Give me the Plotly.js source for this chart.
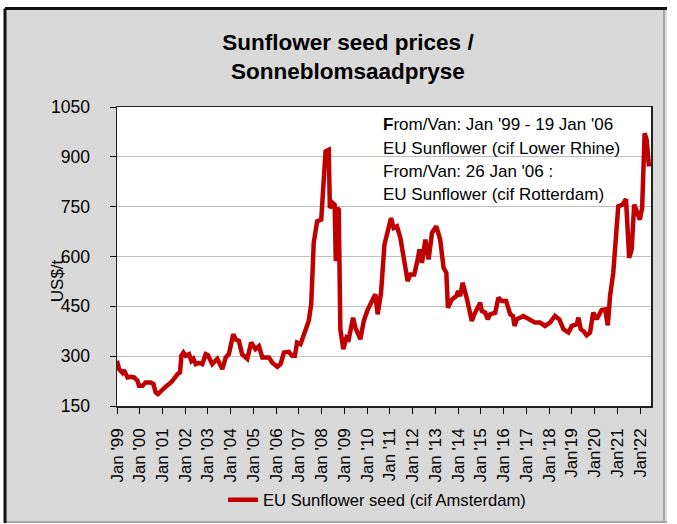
<!DOCTYPE html>
<html>
<head>
<meta charset="utf-8">
<script src="https://cdn.plot.ly/plotly-3.0.1.min.js"></script>
<style>
html,body{margin:0;padding:0;background:#fff;}
#chart{width:677px;height:524px;}
</style>
</head>
<body>
<div id="chart"></div>
<script>
// decimal-year positions of the weekly series
var years = [1999.00,1999.09,1999.24,1999.31,1999.46,1999.61,1999.75,1999.90,1999.97,2000.12,
2000.26,2000.48,2000.60,2000.70,2000.80,2001.00,2001.14,2001.29,2001.44,2001.66,
2001.77,2001.83,2001.92,2002.02,2002.17,2002.27,2002.36,2002.46,2002.60,2002.75,
2002.90,2003.00,2003.19,2003.41,2003.63,2003.78,2003.92,2004.11,2004.21,2004.36,
2004.50,2004.73,2004.90,2005.09,2005.24,2005.39,2005.68,2005.83,2006.05,2006.19,
2006.34,2006.56,2006.70,2006.82,2006.92,2007.07,2007.20,2007.43,2007.54,2007.65,
2007.80,2007.98,2008.17,2008.31,2008.36,2008.49,2008.57,2008.62,2008.68,2008.75,
2008.82,2008.95,2009.09,2009.19,2009.38,2009.48,2009.70,2009.85,2010.00,2010.22,
2010.36,2010.46,2010.61,2010.76,2010.95,2011.05,2011.16,2011.31,2011.46,2011.63,
2011.78,2011.90,2012.07,2012.22,2012.30,2012.41,2012.56,2012.70,2012.85,2013.04,
2013.21,2013.36,2013.48,2013.55,2013.73,2013.92,2014.00,2014.09,2014.20,2014.39,
2014.60,2014.71,2014.83,2014.97,2015.04,2015.19,2015.30,2015.41,2015.63,2015.77,
2015.92,2016.11,2016.29,2016.41,2016.48,2016.58,2016.87,2017.09,2017.38,2017.60,
2017.82,2018.04,2018.26,2018.45,2018.63,2018.85,2019.00,2019.21,2019.29,2019.39,
2019.50,2019.65,2019.80,2019.94,2020.09,2020.31,2020.46,2020.58,2020.68,2020.82,
2020.94,2021.04,2021.23,2021.38,2021.52,2021.63,2021.74,2021.88,2021.99,2022.09,
2022.20,2022.29,2022.39];

// EU Sunflower seed price, US$/t
var prices = [286,261,250,258,236,238,236,226,211,211,
221,221,216,191,186,201,208,216,226,246,
251,301,311,301,306,286,292,276,280,276,
306,303,276,292,261,296,306,366,351,346,
306,292,341,321,330,296,296,280,268,276,
311,313,301,301,341,336,361,406,456,641,
706,711,916,921,746,761,756,586,746,741,
381,321,356,351,416,386,351,406,436,471,
486,426,491,636,686,716,686,691,656,591,
526,546,546,591,621,581,651,591,671,691,
651,566,551,446,471,481,496,481,521,471,
406,426,446,461,436,431,411,426,431,476,
466,466,426,421,391,411,421,411,401,401,
391,401,421,411,381,371,391,396,416,381,
376,363,371,431,411,439,441,393,481,551,
651,751,756,773,596,621,756,731,711,746,
971,951,871];

var tickYears = [1999,2000,2001,2002,2003,2004,2005,2006,2007,2008,2009,2010,2011,2012,2013,2014,2015,2016,2017,2018,2019,2020,2021,2022];
var tickLabels = ["Jan '99","Jan '00","Jan '01","Jan '02","Jan '03","Jan '04","Jan '05","Jan '06","Jan '07","Jan '08","Jan '09","Jan '10","Jan '11","Jan '12","Jan '13","Jan '14","Jan '15","Jan '16","Jan '17","Jan '18","Jan'19","Jan'20","Jan'21","Jan'22"];

var noteLines = ["<b>F</b>rom/Van: Jan '99 - 19 Jan '06","EU Sunflower (cif Lower Rhine)","From/Van: 26 Jan '06 :","EU Sunflower (cif Rotterdam)"];

var FONT = "'Liberation Sans', Arial, sans-serif";

var trace = {
  x: years, y: prices, type: 'scatter', mode: 'lines',
  name: 'EU Sunflower seed (cif Amsterdam)',
  line: {color: '#c00000', width: 4.5}
};

var noteY = [0.9398, 0.8619, 0.7836, 0.7057];
var annotations = noteLines.map(function(t, i){
  return {text: t, xref: 'paper', yref: 'paper', x: 0.4944, y: noteY[i],
    xanchor: 'left', yanchor: 'middle', showarrow: false,
    font: {family: FONT, size: 17, color: '#000'}};
});
annotations.push({text: 'US$/t', xref: 'paper', yref: 'paper', x: -0.112, y: 0.418,
  xanchor: 'center', yanchor: 'middle', showarrow: false, textangle: -90,
  font: {family: FONT, size: 17, color: '#000'}});

var layout = {
  width: 677, height: 524,
  margin: {l: 117, r: 26, t: 107, b: 118, pad: 0, autoexpand: false},
  paper_bgcolor: '#ffffff',
  plot_bgcolor: '#ffffff',
  font: {family: FONT, size: 17, color: '#000'},
  title: {text: '<b>Sunflower seed prices /<br>Sonneblomsaadpryse</b>', x: 0.514, xanchor: 'center', y: 0.905, yanchor: 'middle',
    font: {family: FONT, size: 22.5, color: '#000'}},
  xaxis: {
    range: [1999, 2022.48], tickmode: 'array', tickvals: tickYears, ticktext: tickLabels,
    tickangle: -90, ticks: 'outside', ticklen: 6, tickcolor: '#000', tickwidth: 1,
    showgrid: false, zeroline: false, showline: true, linecolor: '#222', linewidth: 1.5, mirror: true,
    tickfont: {family: FONT, size: 17, color: '#000'}, ticklabelstandoff: 8
  },
  yaxis: {
    range: [150, 1050], tickmode: 'linear', tick0: 150, dtick: 150,
    ticks: 'outside', ticklen: 6, tickcolor: '#000', tickwidth: 1,
    showgrid: true, gridcolor: '#c0c0c0', gridwidth: 1, zeroline: false,
    showline: true, linecolor: '#222', linewidth: 1.5, mirror: true,
    tickfont: {family: FONT, size: 17.5, color: '#000'}, ticklabelstandoff: 16
  },
  showlegend: true,
  legend: {orientation: 'h', x: 0.1985, xanchor: 'left', y: -0.314, yanchor: 'middle',
    bgcolor: 'rgba(0,0,0,0)', font: {family: FONT, size: 16.6, color: '#000'}},
  annotations: annotations,
  shapes: [
    {type: 'rect', xref: 'paper', yref: 'paper', x0: -0.2097, x1: 1.03, y0: -0.3913, y1: 1.3294,
      fillcolor: '#d9d9d9', line: {width: 0}, layer: 'below'},
    {type: 'line', xref: 'paper', yref: 'paper', x0: 1.0243, x1: 1.0243, y0: -0.3913, y1: 1.3294,
      line: {color: '#a6a6a6', width: 2}, layer: 'below'},
    {type: 'line', xref: 'paper', yref: 'paper', x0: -0.2097, x1: 1.03, y0: -0.388, y1: -0.388,
      line: {color: '#a6a6a6', width: 2}, layer: 'below'},
    {type: 'line', xref: 'paper', yref: 'paper', x0: -0.2097, x1: -0.2097, y0: -0.3913, y1: 1.3294,
      line: {color: '#111', width: 3}, layer: 'below'},
    {type: 'line', xref: 'paper', yref: 'paper', x0: -0.2097, x1: 1.03, y0: 1.3294, y1: 1.3294,
      line: {color: '#111', width: 3}, layer: 'below'},
    {type: 'rect', xref: 'paper', yref: 'paper', x0: 0, x1: 1, y0: 0, y1: 1,
      fillcolor: '#ffffff', line: {width: 0}, layer: 'below'}
  ]
};

Plotly.newPlot('chart', [trace], layout, {staticPlot: true, displayModeBar: false});
</script>
</body>
</html>
